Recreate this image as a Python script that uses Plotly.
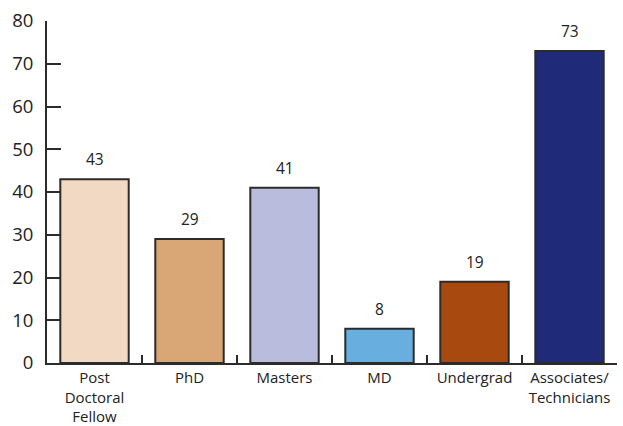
import plotly.graph_objects as go

categories = ["Post<br>Doctoral<br>Fellow", "PhD", "Masters", "MD", "Undergrad", "Associates/<br>Technicians"]
values = [43, 29, 41, 8, 19, 73]
colors = ["#F2D9C3", "#D9A776", "#B9BCDD", "#68AEDF", "#A84A0F", "#1F2A78"]
y_ticks = [0, 10, 20, 30, 40, 50, 60, 70, 80]

font_family = "Open Sans, Lato, DejaVu Sans, sans-serif"
line_col = "#2b2b2b"

fig = go.Figure()
fig.add_trace(go.Bar(
    x=categories, y=values,
    marker=dict(color=colors, line=dict(color=line_col, width=2)),
    width=0.72,
    hoverinfo="skip",
))

for c, v in zip(categories, values):
    fig.add_annotation(x=c, y=v, text=str(v), showarrow=False,
                       yanchor="bottom", yshift=7,
                       font=dict(size=15.5, color="#222", family=font_family))

fig.update_layout(
    width=623, height=426,
    margin=dict(l=47, r=6, t=21, b=63),
    plot_bgcolor="white", paper_bgcolor="white",
    showlegend=False,
    font=dict(family=font_family, color="#222"),
)
fig.update_xaxes(
    range=[-0.5, 5.5], showline=True, linecolor=line_col, linewidth=2,
    ticks="inside", tickson="boundaries", ticklen=8, tickwidth=2, tickcolor=line_col,
    tickfont=dict(size=15, color="#222"), showgrid=False, zeroline=False,
    automargin=False, ticklabelstandoff=0, tickangle=0,
)
fig.update_yaxes(
    range=[0, 80], tickvals=y_ticks, showline=True, linecolor=line_col, linewidth=2,
    ticks="inside", ticklen=14, tickwidth=2, tickcolor=line_col,
    tickfont=dict(size=18.5, color="#222"), showgrid=False, zeroline=False,
    ticklabelstandoff=8, automargin=False,
)

fig.write_html("out.html", config={"displayModeBar": False},
               post_script="document.body.style.margin='0';document.body.style.overflow='hidden';")
